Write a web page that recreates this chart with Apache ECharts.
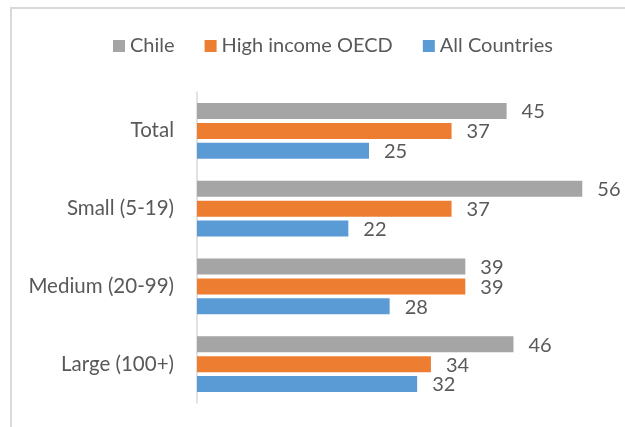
<!DOCTYPE html>
<html>
<head>
<meta charset="utf-8">
<script src="https://cdn.jsdelivr.net/npm/echarts@6/dist/echarts.min.js"></script>
<style>
  html, body { margin: 0; padding: 0; background: #ffffff; }
  #chart { width: 625px; height: 427px; }
</style>
</head>
<body>
<div id="chart"></div>
<script>
// Firm size categories, top to bottom
const categories = ['Total', 'Small (5-19)', 'Medium (20-99)', 'Large (100+)'];

// Percentages per group
const chileValues = [45, 56, 39, 46];
const oecdValues = [37, 37, 39, 34];
const allCountriesValues = [25, 22, 28, 32];

const seriesNames = ['Chile', 'High income OECD', 'All Countries'];
const seriesColors = ['#A5A5A5', '#ED7D31', '#5B9BD5'];

const FONT = 'Lato, "Liberation Sans", sans-serif';
const TEXT_COLOR = '#595959';

const chart = echarts.init(document.getElementById('chart'), null, { renderer: 'canvas' });

function barSeries(name, values, color) {
  return {
    name: name,
    type: 'bar',
    data: values,
    barWidth: 16,
    barGap: '24%',
    itemStyle: { color: color },
    label: {
      show: true,
      position: 'right',
      distance: 15,
      offset: [0, 1],
      color: TEXT_COLOR,
      fontFamily: FONT,
      fontSize: 20
    },
    emphasis: { disabled: true },
    animation: false
  };
}

chart.setOption({
  animation: false,
  backgroundColor: '#ffffff',
  graphic: [{
    type: 'rect',
    shape: { x: 11, y: 8, width: 700, height: 500 },
    style: { fill: 'none', stroke: '#D9D9D9', lineWidth: 2 },
    silent: true
  }],
  legend: {
    data: seriesNames,
    left: 108,
    top: 31,
    icon: 'rect',
    itemWidth: 12,
    itemHeight: 12,
    itemGap: 30,
    textStyle: { color: TEXT_COLOR, fontFamily: FONT, fontSize: 20 }
  },
  grid: {
    left: 197,
    top: 92,
    width: 412.8,
    height: 311,
    containLabel: false
  },
  xAxis: {
    type: 'value',
    min: 0,
    max: 60,
    show: false,
    splitLine: { show: false }
  },
  yAxis: {
    type: 'category',
    data: categories,
    inverse: true,
    axisLine: { show: true, lineStyle: { color: '#D9D9D9', width: 1.5 } },
    axisTick: { show: false },
    axisLabel: {
      margin: 23,
      color: TEXT_COLOR,
      fontFamily: FONT,
      fontSize: 20.5
    }
  },
  series: [
    barSeries(seriesNames[0], chileValues, seriesColors[0]),
    barSeries(seriesNames[1], oecdValues, seriesColors[1]),
    barSeries(seriesNames[2], allCountriesValues, seriesColors[2])
  ]
});
</script>
</body>
</html>
